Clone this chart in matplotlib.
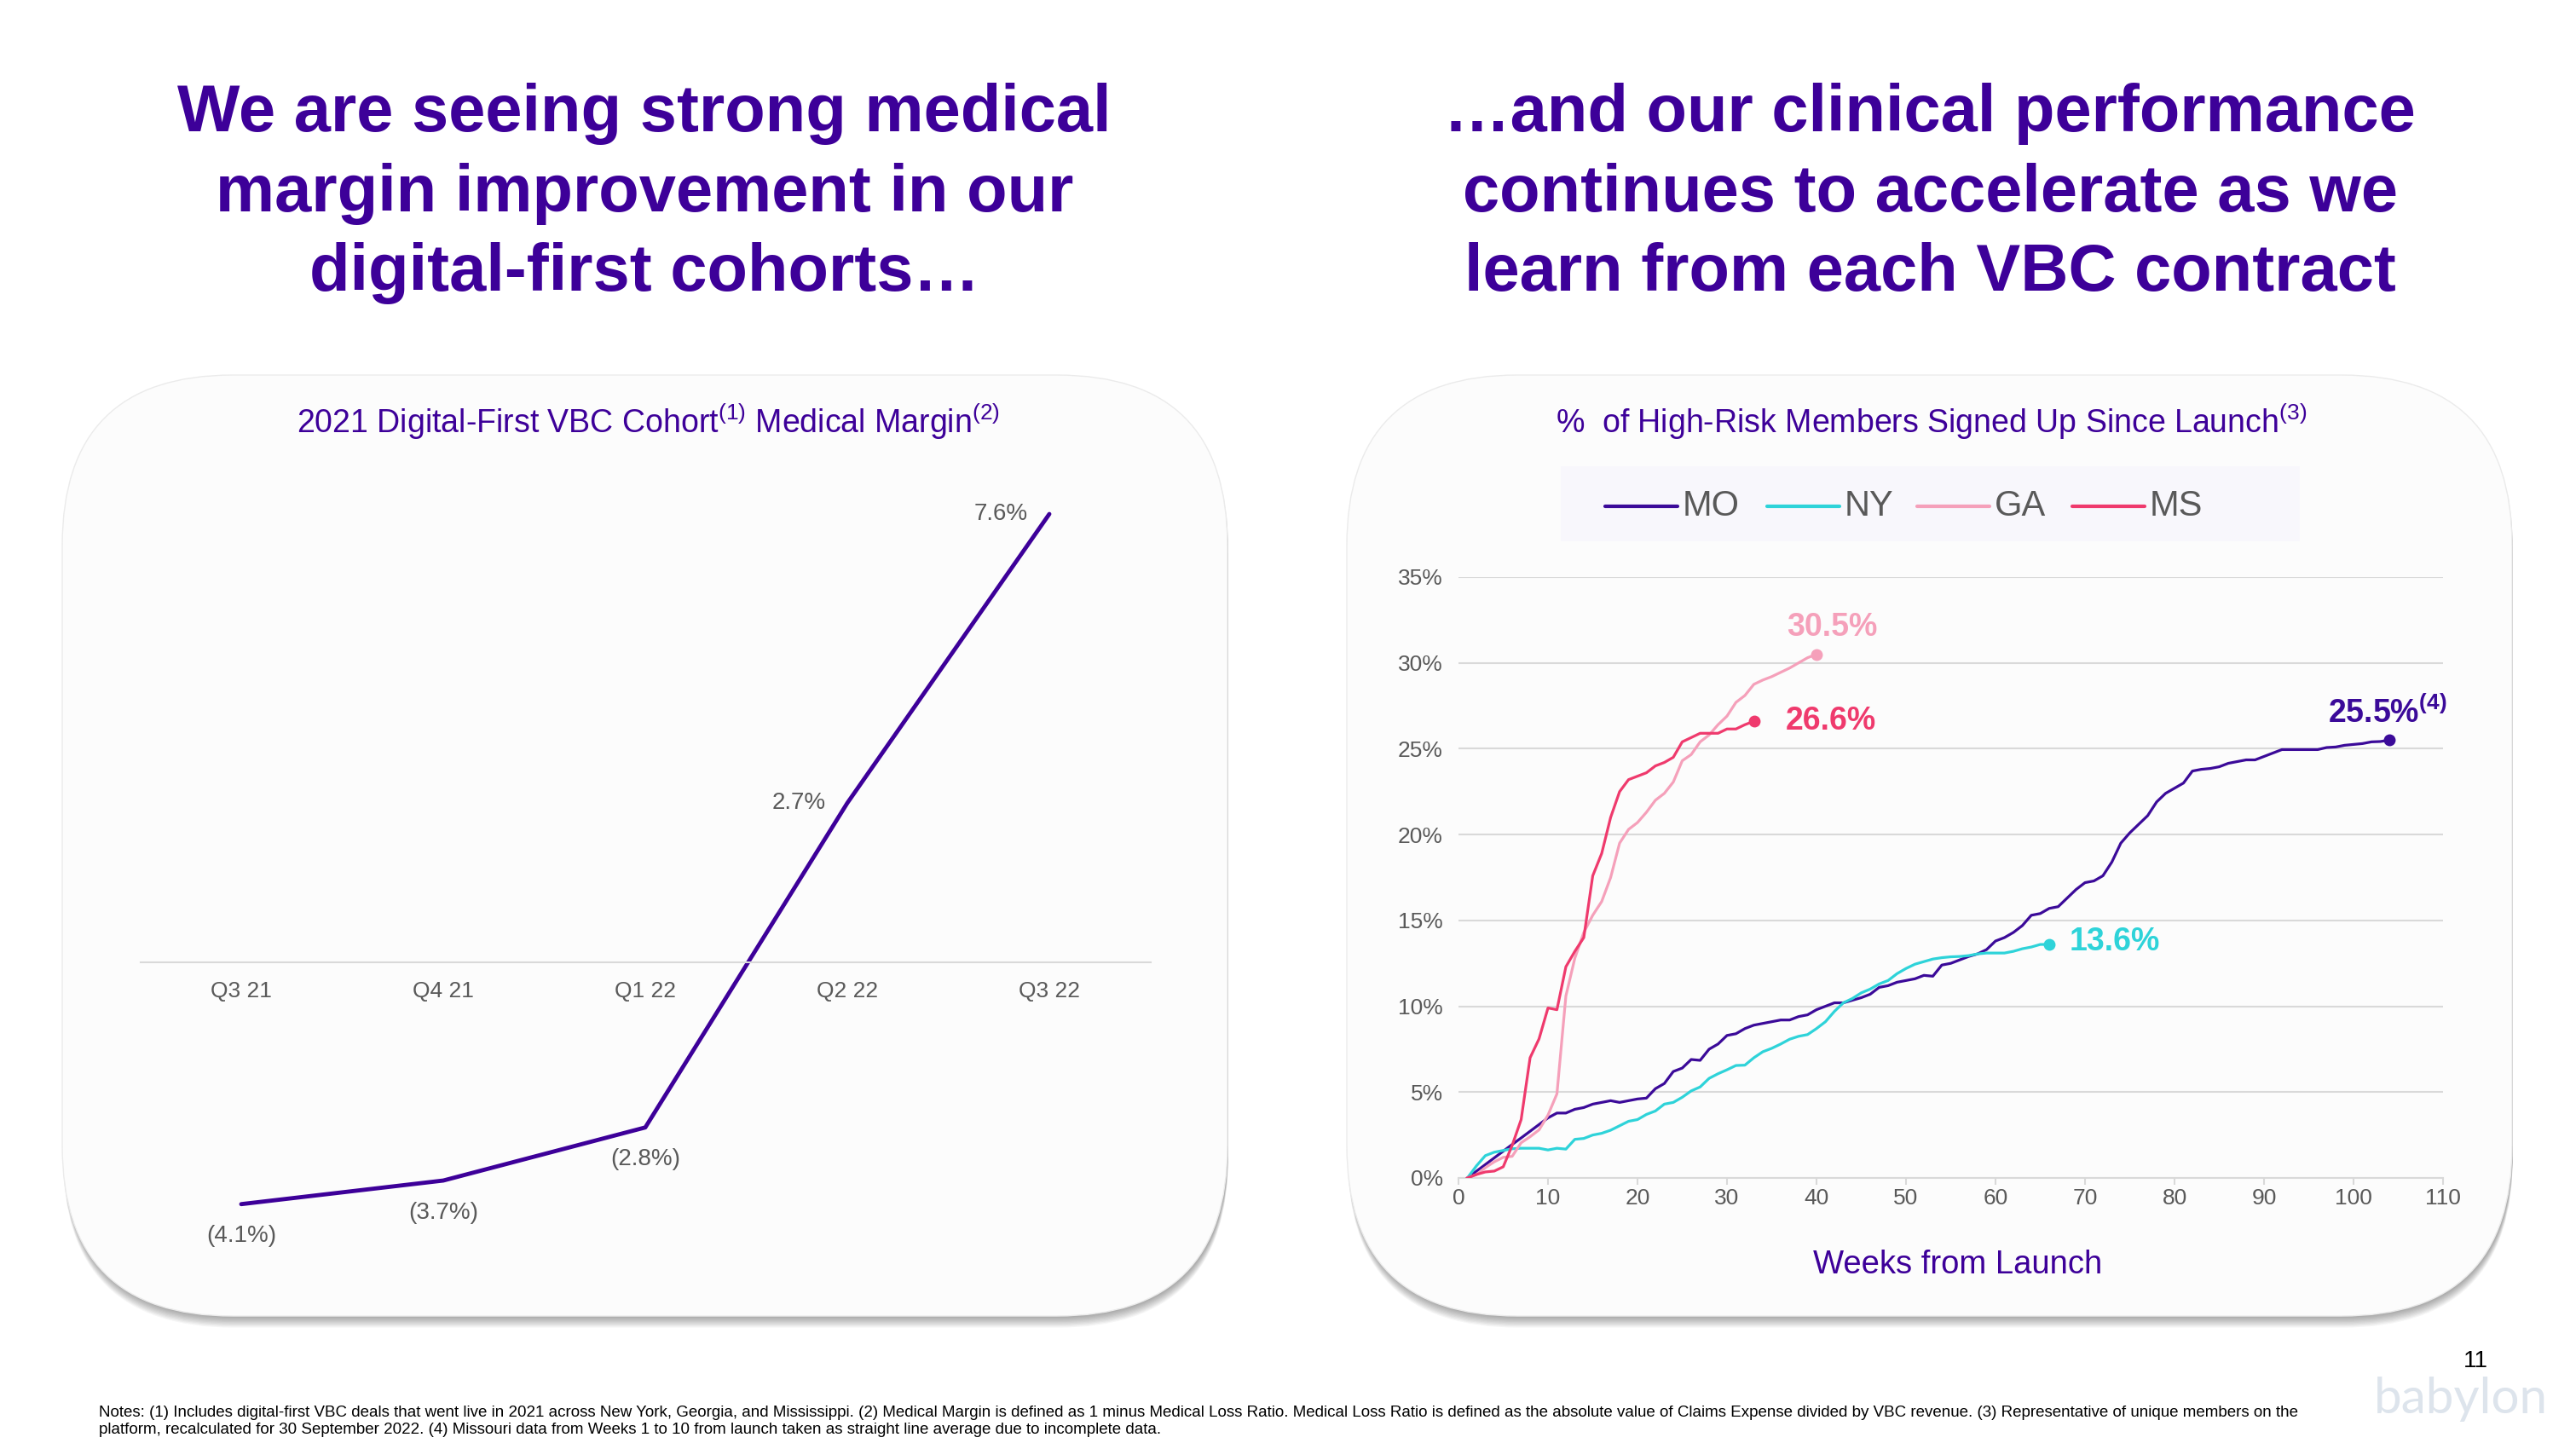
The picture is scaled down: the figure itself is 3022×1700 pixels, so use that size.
import matplotlib
matplotlib.use("Agg")
import matplotlib.pyplot as plt
from matplotlib.patches import FancyBboxPatch, Rectangle

# %%
W, H = 3022, 1700
plt.rcParams['font.family'] = ['Liberation Sans', 'DejaVu Sans']
plt.rcParams['mathtext.fontset'] = 'custom'
plt.rcParams['mathtext.rm'] = 'Liberation Sans'
plt.rcParams['mathtext.it'] = 'Liberation Sans'
plt.rcParams['mathtext.bf'] = 'Liberation Sans:bold'

PURPLE = '#3D0099'
GREY = '#595959'
GRID = '#D9D9D9'

# left chart data
quarters = ['Q3 21', 'Q4 21', 'Q1 22', 'Q2 22', 'Q3 22']
margin = [-4.1, -3.7, -2.8, 2.7, 7.6]
margin_labels = ['(4.1%)', '(3.7%)', '(2.8%)', '2.7%', '7.6%']

# right chart data (weeks from launch, % of high-risk members signed up)
mo_pct = [0, 0.39, 0.78, 1.17, 1.56, 1.95, 2.33, 2.72, 3.11, 3.5,
          3.78, 3.78, 4.0, 4.1, 4.3, 4.4, 4.5, 4.4, 4.5, 4.6,
          4.65, 5.2, 5.5, 6.2, 6.4, 6.9, 6.85, 7.5, 7.8, 8.3,
          8.4, 8.7, 8.9, 9.0, 9.1, 9.2, 9.2, 9.4, 9.5, 9.8,
          10.0, 10.2, 10.2, 10.35, 10.5, 10.7, 11.1, 11.2, 11.4, 11.5,
          11.6, 11.8, 11.75, 12.4, 12.5, 12.7, 12.9, 13.05, 13.3, 13.8,
          14.0, 14.3, 14.7, 15.3, 15.4, 15.7, 15.8, 16.3, 16.8, 17.2,
          17.3, 17.6, 18.4, 19.5, 20.1, 20.6, 21.1, 21.9, 22.4, 22.7,
          23.0, 23.7, 23.8, 23.85, 23.95, 24.15, 24.25, 24.35, 24.35, 24.55,
          24.75, 24.95, 24.95, 24.95, 24.95, 24.95, 25.07, 25.1, 25.2, 25.25,
          25.3, 25.4, 25.42, 25.5]
ny_pct = [0, 0.7, 1.3, 1.5, 1.6, 1.7, 1.73, 1.73, 1.73, 1.63,
          1.73, 1.68, 2.25, 2.3, 2.5, 2.6, 2.78, 3.04, 3.3, 3.4,
          3.7, 3.9, 4.3, 4.4, 4.7, 5.07, 5.3, 5.8, 6.07, 6.3,
          6.55, 6.57, 7.0, 7.35, 7.55, 7.8, 8.08, 8.25, 8.35, 8.7,
          9.1, 9.7, 10.2, 10.45, 10.78, 11.0, 11.3, 11.5, 11.9, 12.2,
          12.45, 12.6, 12.75, 12.83, 12.88, 12.9, 12.95, 13.05, 13.1, 13.1,
          13.1, 13.2, 13.35, 13.45, 13.6, 13.6]
ga_pct = [0, 0.2, 0.6, 0.94, 1.2, 1.26, 2.05, 2.4, 2.8, 3.66,
          4.9, 10.6, 12.8, 14.3, 15.3, 16.1, 17.5, 19.5, 20.3, 20.7,
          21.3, 22.0, 22.4, 23.06, 24.3, 24.66, 25.4, 25.8, 26.4, 26.9,
          27.7, 28.1, 28.75, 29.0, 29.2, 29.45, 29.7, 30.0, 30.3, 30.5]
ms_pct = [0, 0.2, 0.35, 0.4, 0.65, 1.9, 3.4, 7.0, 8.1, 9.9,
          9.8, 12.3, 13.2, 14.0, 17.6, 18.9, 21.0, 22.5, 23.2, 23.4,
          23.6, 24.0, 24.2, 24.5, 25.4, 25.65, 25.9, 25.9, 25.9, 26.15,
          26.15, 26.4, 26.6]

states = ['MO', 'NY', 'GA', 'MS']
state_colors = ['#3B0A99', '#2ED3D9', '#F5A0BA', '#EF3A6D']
state_pct = [mo_pct, ny_pct, ga_pct, ms_pct]
end_labels = ['25.5%$^{\\mathbf{(4)}}$', '13.6%', '30.5%', '26.6%']

# %%
fig = plt.figure(figsize=(W / 100, H / 100), dpi=100)
bg = fig.add_axes([0, 0, 1, 1], zorder=-1)
bg.set_xlim(0, W)
bg.set_ylim(H, 0)
bg.axis('off')

# rounded panels with a soft shadow
for x0 in (73, 1580):
    y0, pw, ph = 440, 1367, 1104
    for i in range(10):
        bg.add_patch(FancyBboxPatch((x0 + 1, y0 + 2 + i * 1.3), pw, ph,
                                    boxstyle='round,pad=0,rounding_size=200',
                                    fc='black', ec='none', alpha=0.035))
    bg.add_patch(FancyBboxPatch((x0, y0), pw, ph, boxstyle='round,pad=0,rounding_size=200',
                                fc='#FCFCFC', ec='#EBEBEB', lw=1))

# headings
left_title = ['We are seeing strong medical', 'margin improvement in our', 'digital-first cohorts\u2026']
right_title = ['\u2026and our clinical performance', 'continues to accelerate as we',
               'learn from each VBC contract']
for i, (lt, rt) in enumerate(zip(left_title, right_title)):
    yb = 154 + i * 93.5
    bg.text(756, yb, lt, ha='center', va='baseline', fontsize=56, fontweight='bold', color=PURPLE)
    bg.text(2264, yb, rt, ha='center', va='baseline', fontsize=56, fontweight='bold', color=PURPLE)

bg.text(760, 495, '2021 Digital-First VBC Cohort$^{(1)}$ Medical Margin$^{(2)}$',
        ha='center', va='center', fontsize=27, color=PURPLE)
bg.text(2266, 495, '%  of High-Risk Members Signed Up Since Launch$^{(3)}$',
        ha='center', va='center', fontsize=27, color=PURPLE)

# %% left chart
ax1 = fig.add_axes([164.5 / W, 0.1120, 1185 / W, 0.5699])
ax1.set_facecolor('none')
ax1.plot(range(len(quarters)), margin, color=PURPLE, lw=3.5, solid_capstyle='round')
ax1.set_xlim(-0.5, 4.5)
ax1.set_ylim(-5.5, 8.5)
ax1.set_xticks(range(len(quarters)))
ax1.set_xticklabels(quarters)
ax1.set_yticks([])
for s in ['top', 'left', 'right']:
    ax1.spines[s].set_visible(False)
ax1.spines['bottom'].set_position(('data', 0))
ax1.spines['bottom'].set_color(GRID)
ax1.spines['bottom'].set_linewidth(1.5)
ax1.tick_params(axis='x', length=0, pad=16, labelsize=19, labelcolor=GREY)

for i, (v, lab) in enumerate(zip(margin, margin_labels)):
    if v < 0:
        ax1.annotate(lab, (i, v), xytext=(0, -27), textcoords='offset points',
                     ha='center', va='center', fontsize=20, color=GREY)
    else:
        ax1.annotate(lab, (i, v), xytext=(-18, 0), textcoords='offset points',
                     ha='right', va='center', fontsize=20, color=GREY)

# %% right chart
ax2 = fig.add_axes([1711 / W, 0.18706, 1155 / W, 0.41471])
ax2.set_facecolor('none')
for name, c, pct in zip(states, state_colors, state_pct):
    weeks = list(range(1, len(pct) + 1))
    ax2.plot(weeks, pct, color=c, lw=2.3, zorder=3)
    ax2.plot(weeks[-1], pct[-1], 'o', ms=9, color=c, zorder=4)

label_offsets = [(-2, 23, 'center'), (17, 2, 'left'), (13, 23, 'center'), (27, 0, 'left')]
for c, pct, lab, (dx, dy, ha) in zip(state_colors, state_pct, end_labels, label_offsets):
    ax2.annotate(lab, (len(pct), pct[-1]), xytext=(dx, dy), textcoords='offset points',
                 ha=ha, va='center', fontsize=27, fontweight='bold', color=c)

ax2.set_xlim(0, 110)
ax2.set_ylim(0, 35)
ax2.set_xticks(range(0, 111, 10))
ax2.set_yticks(range(0, 36, 5))
ax2.set_yticklabels([f'{v}%' for v in range(0, 36, 5)])
ax2.grid(axis='y', color=GRID, lw=1.5)
ax2.set_axisbelow(True)
for s in ['top', 'left', 'right']:
    ax2.spines[s].set_visible(False)
ax2.spines['bottom'].set_color(GRID)
ax2.spines['bottom'].set_linewidth(1.5)
ax2.tick_params(axis='x', length=6, width=1.5, color=GRID, pad=3, labelsize=19, labelcolor=GREY)
ax2.tick_params(axis='y', length=0, pad=13, labelsize=19, labelcolor=GREY)

bg.text(2297, 1484, 'Weeks from Launch', ha='center', va='center', fontsize=27.5, color=PURPLE)

# legend
bg.add_patch(Rectangle((1831, 547), 867, 88, fc='#F8F7FC', ec='none'))
leg_x = [1883, 2073, 2249, 2431]
for x, name, c in zip(leg_x, states, state_colors):
    bg.plot([x, x + 85], [594, 594], color=c, lw=3, solid_capstyle='round')
    bg.text(x + 91, 594, name, ha='left', va='center', fontsize=30, color=GREY)

# %% footer
notes = [
    'Notes: (1) Includes digital-first VBC deals that went live in 2021 across New York, Georgia, and Mississippi. '
    '(2) Medical Margin is defined as 1 minus Medical Loss Ratio. Medical Loss Ratio is defined as the absolute '
    'value of Claims Expense divided by VBC revenue. (3) Representative of unique members on the',
    'platform, recalculated for 30 September 2022. (4) Missouri data from Weeks 1 to 10 from launch taken as '
    'straight line average due to incomplete data.',
]
for i, line in enumerate(notes):
    bg.text(116, 1657 + i * 21, line, ha='left', va='center', fontsize=13.5, color='black')

bg.text(2904, 1597, '11', ha='center', va='center', fontsize=20, color='black')
bg.text(2887, 1642, 'babylon', ha='center', va='center', fontsize=42,
        family=['Lato', 'DejaVu Sans'], color='#DDE4EC')

fig.savefig('out.png', dpi=100, facecolor='white')
